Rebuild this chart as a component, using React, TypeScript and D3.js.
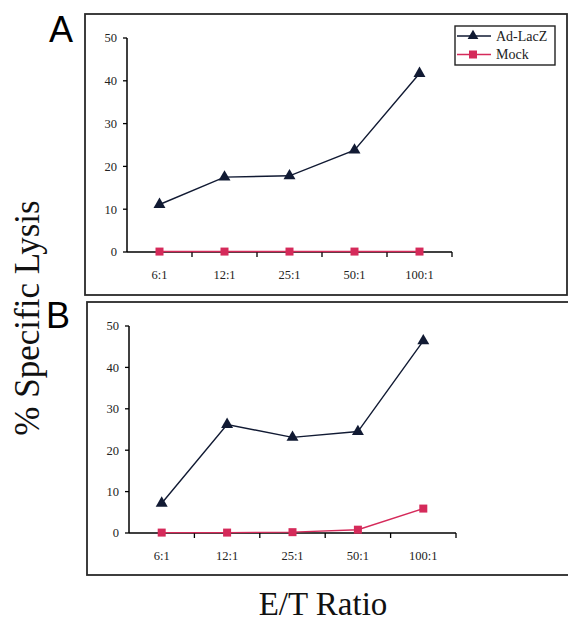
import React from 'react';
import * as d3 from 'd3';

const ratios = ['6:1', '12:1', '25:1', '50:1', '100:1'];
const yTicks = [0, 10, 20, 30, 40, 50];
const seriesNames = ['Ad-LacZ', 'Mock'];

const lacZA = [11.1, 17.5, 17.8, 23.8, 41.7];
const mockA = [0.1, 0.1, 0.1, 0.1, 0.1];
const lacZB = [7.2, 26.2, 23.1, 24.5, 46.4];
const mockB = [0.1, 0.1, 0.2, 0.8, 5.9];

const LINE_COLOR = '#111a33';
const MOCK_COLOR = '#d52a5a';
const SERIF = { fontFamily: 'Liberation Serif' };
const SANS = { fontFamily: 'Liberation Sans' };

const panels = [
  { letter: 'A', lacZ: lacZA, mock: mockA, box: { x: 85, y: 14, w: 482, h: 281 }, plot: { x0: 127, x1: 452, yTop: 38, yBottom: 252 }, letterPos: { x: 49, y: 42 }, legend: true },
  { letter: 'B', lacZ: lacZB, mock: mockB, box: { x: 87, y: 302, w: 490, h: 273 }, plot: { x0: 129, x1: 456, yTop: 326, yBottom: 533 }, letterPos: { x: 46, y: 328 }, legend: false },
];

const triangle = (size: number) => d3.symbol().type(d3.symbolTriangle).size(size)() as string;

const Panel = ({ p }: { p: typeof panels[number] }) => {
  const x = d3.scaleBand().domain(ratios).range([p.plot.x0, p.plot.x1]);
  const y = d3.scaleLinear().domain([0, 50]).range([p.plot.yBottom, p.plot.yTop]);
  const cx = (i: number) => (x(ratios[i]) as number) + x.bandwidth() / 2;
  const line = d3.line<number>().x((_, i) => cx(i)).y(d => y(d));

  return (
    <g>
      <rect x={p.box.x} y={p.box.y} width={p.box.w} height={p.box.h} fill="none" stroke="#2a2a2a" strokeWidth={1.8} />
      <text x={p.letterPos.x} y={p.letterPos.y} fontSize={36} fill="#000" style={SANS}>{p.letter}</text>

      {/* y axis */}
      <line x1={p.plot.x0} x2={p.plot.x0} y1={y(50)} y2={y(0)} stroke="#000" strokeWidth={1.5} />
      {yTicks.map(t => (
        <g key={t}>
          <line x1={p.plot.x0 - 4} x2={p.plot.x0} y1={y(t)} y2={y(t)} stroke="#000" strokeWidth={1.3} />
          <text x={p.plot.x0 - 10} y={y(t)} dy="0.35em" textAnchor="end" fontSize={12.5} fill="#222" style={SERIF}>{t}</text>
        </g>
      ))}

      {/* x axis */}
      <line x1={p.plot.x0} x2={p.plot.x1} y1={y(0)} y2={y(0)} stroke="#000" strokeWidth={1.5} />
      {ratios.map(r => (
        <g key={r}>
          <line x1={(x(r) as number) + x.bandwidth()} x2={(x(r) as number) + x.bandwidth()} y1={y(0)} y2={y(0) + 5} stroke="#000" strokeWidth={1.3} />
          <text x={(x(r) as number) + x.bandwidth() / 2} y={y(0) + 27} textAnchor="middle" fontSize={12.5} fill="#222" style={SERIF}>{r}</text>
        </g>
      ))}

      <path d={line(p.mock) as string} fill="none" stroke={MOCK_COLOR} strokeWidth={1.4} />
      {p.mock.map((d, i) => (
        <rect key={i} x={cx(i) - 4} y={y(d) - 4} width={8} height={8} fill={MOCK_COLOR} />
      ))}
      <path d={line(p.lacZ) as string} fill="none" stroke={LINE_COLOR} strokeWidth={1.4} />
      {p.lacZ.map((d, i) => (
        <path key={i} transform={`translate(${cx(i)},${y(d)})`} d={triangle(62)} fill={LINE_COLOR} />
      ))}

      {p.legend && (
        <g transform="translate(455,26)">
          <rect width={100} height={39} fill="#fff" stroke="#222" strokeWidth={1.4} />
          {seriesNames.map((name, i) => {
            const ly = 10 + i * 18.5;
            const col = i === 0 ? LINE_COLOR : MOCK_COLOR;
            return (
              <g key={name}>
                <line x1={2} x2={36} y1={ly} y2={ly} stroke={col} strokeWidth={1.3} />
                {i === 0
                  ? <path transform={`translate(18,${ly})`} d={triangle(50)} fill={col} />
                  : <rect x={14} y={ly - 4} width={8} height={8} fill={col} />}
                <text x={41} y={ly + 4.5} fontSize={14} fill="#222" style={SERIF}>{name}</text>
              </g>
            );
          })}
        </g>
      )}
    </g>
  );
};

const App = () => (
  <div style={{ position: 'absolute', left: 0, top: 0 }}>
    <svg width={568} height={627} style={{ display: 'block', background: '#fff' }}>
      {panels.map(p => <Panel key={p.letter} p={p} />)}
      <text transform="translate(39,318) rotate(-90)" textAnchor="middle" fontSize={35} fill="#111" style={SERIF}>% Specific Lysis</text>
      <text x={323} y={615} textAnchor="middle" fontSize={33} fill="#111" style={SERIF}>E/T Ratio</text>
    </svg>
  </div>
);

export default App;
